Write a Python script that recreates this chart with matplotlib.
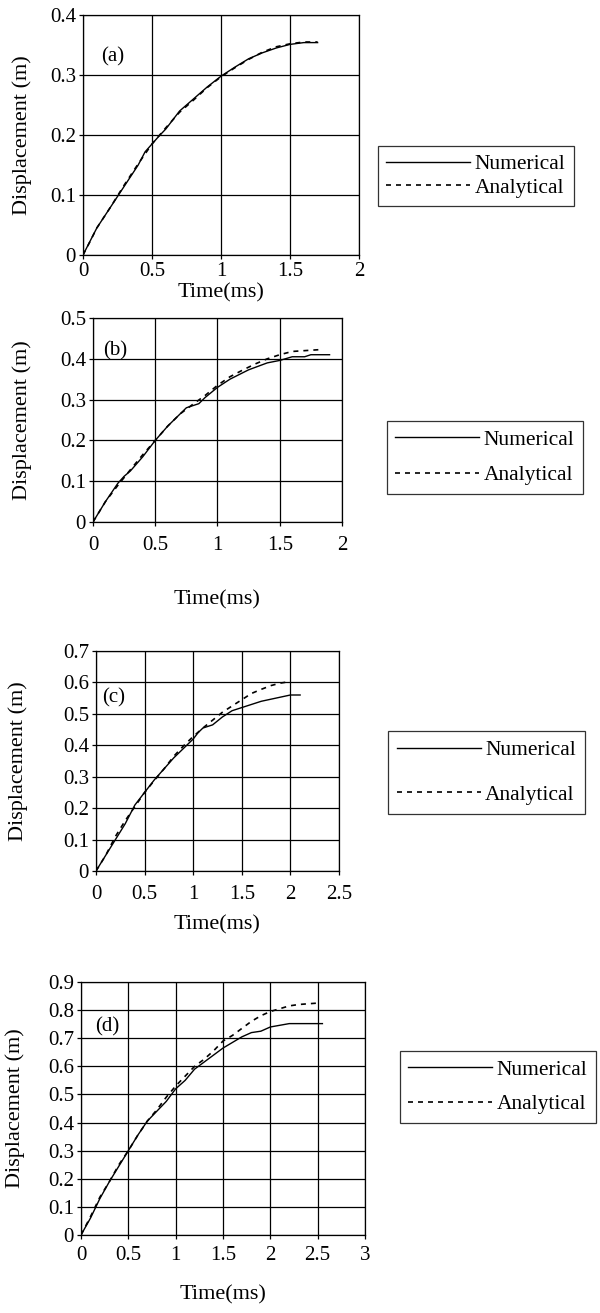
import matplotlib
matplotlib.use("Agg")
import matplotlib.pyplot as plt

plt.rcParams['font.family'] = ['Liberation Serif', 'DejaVu Serif']

# (a)
t_a_num = [0, 0.1, 0.2, 0.3, 0.4, 0.45, 0.5, 0.55, 0.6, 0.7, 0.8, 0.9, 1.0, 1.1, 1.2, 1.3, 1.4, 1.5, 1.6, 1.7]
d_a_num = [0, 0.045, 0.08, 0.115, 0.15, 0.172, 0.185, 0.198, 0.21, 0.24, 0.26, 0.28, 0.298, 0.313, 0.327, 0.337, 0.345, 0.351, 0.354, 0.354]
t_a_ana = [0, 0.05, 0.1, 0.2, 0.3, 0.4, 0.5, 0.6, 0.7, 0.8, 0.9, 1.0, 1.1, 1.2, 1.3, 1.4, 1.5, 1.6, 1.7]
d_a_ana = [0, 0.022, 0.045, 0.08, 0.117, 0.152, 0.185, 0.212, 0.238, 0.258, 0.279, 0.297, 0.312, 0.326, 0.338, 0.347, 0.352, 0.355, 0.355]

# (b)
t_b_num = [0, 0.1, 0.2, 0.25, 0.3, 0.4, 0.5, 0.6, 0.7, 0.75, 0.8, 0.85, 0.9, 1.0, 1.1, 1.25, 1.4, 1.5, 1.6, 1.7, 1.75, 1.9]
d_b_num = [0, 0.05, 0.095, 0.112, 0.125, 0.16, 0.2, 0.235, 0.265, 0.28, 0.285, 0.29, 0.305, 0.33, 0.35, 0.373, 0.39, 0.396, 0.405, 0.405, 0.41, 0.41]
t_b_ana = [0, 0.1, 0.2, 0.3, 0.4, 0.5, 0.6, 0.7, 0.8, 0.9, 1.0, 1.1, 1.2, 1.3, 1.4, 1.5, 1.6, 1.7, 1.85]
d_b_ana = [0, 0.05, 0.09, 0.128, 0.165, 0.2, 0.235, 0.265, 0.288, 0.31, 0.335, 0.356, 0.372, 0.387, 0.4, 0.41, 0.418, 0.42, 0.423]

# (c)
t_c_num = [0, 0.1, 0.2, 0.3, 0.4, 0.5, 0.6, 0.7, 0.8, 0.9, 1.0, 1.05, 1.1, 1.2, 1.3, 1.4, 1.5, 1.7, 1.85, 2.0, 2.1]
d_c_num = [0, 0.05, 0.1, 0.15, 0.21, 0.25, 0.29, 0.325, 0.36, 0.39, 0.42, 0.44, 0.455, 0.465, 0.49, 0.51, 0.52, 0.54, 0.55, 0.56, 0.56]
t_c_ana = [0, 0.1, 0.2, 0.3, 0.4, 0.5, 0.6, 0.7, 0.8, 0.9, 1.0, 1.1, 1.2, 1.3, 1.4, 1.5, 1.6, 1.7, 1.8, 1.9, 2.0]
d_c_ana = [0, 0.05, 0.11, 0.16, 0.205, 0.25, 0.288, 0.325, 0.365, 0.398, 0.428, 0.455, 0.48, 0.505, 0.525, 0.545, 0.565, 0.578, 0.59, 0.598, 0.603]

# (d)
t_d_num = [0, 0.1, 0.2, 0.3, 0.4, 0.5, 0.6, 0.7, 0.8, 0.9, 1.0, 1.1, 1.2, 1.3, 1.4, 1.5, 1.6, 1.7, 1.8, 1.9, 2.0, 2.2, 2.55]
d_d_num = [0, 0.06, 0.13, 0.19, 0.245, 0.3, 0.355, 0.405, 0.44, 0.475, 0.52, 0.55, 0.59, 0.615, 0.64, 0.665, 0.685, 0.705, 0.72, 0.725, 0.74, 0.752, 0.752]
t_d_ana = [0, 0.1, 0.2, 0.3, 0.4, 0.5, 0.6, 0.7, 0.8, 0.9, 1.0, 1.1, 1.2, 1.3, 1.4, 1.5, 1.6, 1.7, 1.8, 1.9, 2.0, 2.1, 2.2, 2.3, 2.5]
d_d_ana = [0, 0.065, 0.135, 0.19, 0.25, 0.3, 0.355, 0.405, 0.445, 0.49, 0.53, 0.565, 0.6, 0.625, 0.655, 0.69, 0.71, 0.735, 0.76, 0.78, 0.795, 0.805, 0.815, 0.82, 0.825]

W, H = 600, 1313
FS = 15       # ticks and panel tags
FS_LAB = 16   # axis labels
FS_LEG = 15.5

def px_box(x0, y0, x1, y1):
    # pixel box -> figure fractions [left, bottom, width, height]
    return [x0 / W, 1 - y1 / H, (x1 - x0) / W, (y1 - y0) / H]

panels = [
    dict(box=(83, 15, 359, 255), xmax=2, ymax=0.4, xpad=2,
         num=(t_a_num, d_a_num), ana=(t_a_ana, d_a_ana), tag="(a)", tagpos=(0.13, 0.33),
         xlab_y=293, ylab_x=22, leg=(371, 152, 581, 200), lsp=0.15),
    dict(box=(93, 318, 342, 522), xmax=2, ymax=0.5, xpad=7,
         num=(t_b_num, d_b_num), ana=(t_b_ana, d_b_ana), tag="(b)", tagpos=(0.08, 0.42),
         xlab_y=600, ylab_x=22, leg=(385, 425, 585, 490), lsp=0.7),
    dict(box=(96, 651, 339, 871), xmax=2.5, ymax=0.7, xpad=7,
         num=(t_c_num, d_c_num), ana=(t_c_ana, d_c_ana), tag="(c)", tagpos=(0.06, 0.55),
         xlab_y=925, ylab_x=18, leg=(385, 733, 588, 812), lsp=1.15),
    dict(box=(81, 982, 365, 1235), xmax=3, ymax=0.9, xpad=5,
         num=(t_d_num, d_d_num), ana=(t_d_ana, d_d_ana), tag="(d)", tagpos=(0.15, 0.74),
         xlab_y=1295, ylab_x=15, leg=(404, 1052, 592, 1122), lsp=0.65),
]

fig = plt.figure(figsize=(W / 100, H / 100), dpi=100)

for p in panels:
    ax = fig.add_axes(px_box(*p["box"]))
    ln1, = ax.plot(*p["num"], color="black", lw=1.0, label="Numerical")
    ln2, = ax.plot(*p["ana"], color="black", lw=1.2, dashes=(3, 3), label="Analytical")
    ax.set_xlim(0, p["xmax"])
    ax.set_ylim(0, p["ymax"])
    nx = int(round(p["xmax"] / 0.5))
    ny = int(round(p["ymax"] / 0.1))
    xt = [i * 0.5 for i in range(nx + 1)]
    yt = [round(i * 0.1, 1) for i in range(ny + 1)]
    ax.set_xticks(xt)
    ax.set_yticks(yt)
    ax.set_xticklabels(["%g" % v for v in xt])
    ax.set_yticklabels(["%g" % v for v in yt])
    ax.grid(True, color="black", lw=0.9)
    ax.tick_params(direction="out", length=3, width=0.9, labelsize=FS, pad=2)
    ax.tick_params(axis="x", pad=p["xpad"])
    for s in ax.spines.values():
        s.set_color("black")
        s.set_linewidth(0.9)
    ax.text(p["tagpos"][0], p["tagpos"][1], p["tag"], fontsize=FS, ha="left", va="center")

    x0, y0, x1, y1 = p["box"]
    fig.text((x0 + x1) / 2 / W, 1 - p["xlab_y"] / H, "Time(ms)", ha="center", va="center", fontsize=FS_LAB)
    fig.text(p["ylab_x"] / W, 1 - (y0 + y1) / 2 / H, "Displacement (m)", rotation=90,
             ha="center", va="center", fontsize=FS_LAB)

    lx0, ly0, lx1, ly1 = p["leg"]
    leg = fig.legend([ln1, ln2], ["Numerical", "Analytical"], loc="center",
                     bbox_to_anchor=((lx0 + lx1) / 2 / W, 1 - (ly0 + ly1) / 2 / H),
                     fontsize=FS_LEG, frameon=True, fancybox=False, handlelength=3.9,
                     handletextpad=0.2, labelspacing=p["lsp"], borderpad=0.4)
    leg.get_frame().set_edgecolor("black")
    leg.get_frame().set_linewidth(0.9)

fig.savefig("out.png", dpi=100)
